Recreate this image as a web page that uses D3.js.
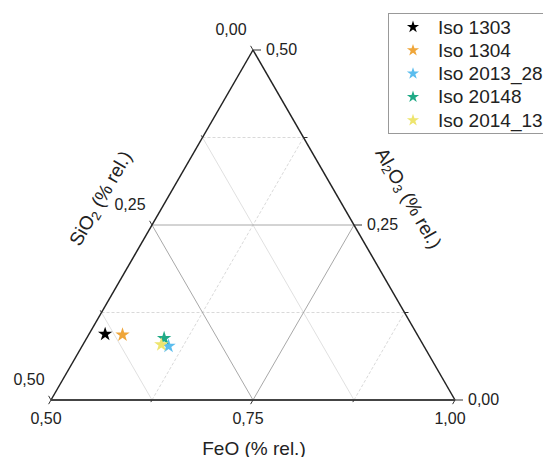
<!DOCTYPE html>
<html>
<head>
<meta charset="utf-8">
<script src="https://cdn.jsdelivr.net/npm/d3@7"></script>
<style>
  html, body { margin: 0; padding: 0; background: #fff; }
  svg { display: block; font-family: "Liberation Sans", Arial, sans-serif; }
</style>
</head>
<body>
<svg id="chart" width="543" height="457"></svg>
<script>
// ---- Data ----
const samples = ["Iso 1303", "Iso 1304", "Iso 2013_28", "Iso 20148", "Iso 2014_13"];
const feoValues = [0.520, 0.542, 0.607, 0.596, 0.597];
const sio2Values = [0.386, 0.365, 0.316, 0.316, 0.324];
const al2o3Values = [0.094, 0.093, 0.077, 0.088, 0.079];
const colors = ["#000000", "#EFA63A", "#5BBDEE", "#1FAA86", "#EEE56E"];
const majorTicks = [0, 0.25, 0.5];
const minorTicks = [0.125, 0.375];
const feoTicks = [0.5, 0.75, 1.0];

// ---- Layout ----
const svg = d3.select("#chart");
const x0 = 51, x1 = 455, yBottom = 400, yTop = 50;

// FeO along the bottom, Al2O3 upward, SiO2 = remainder
const feoX = d3.scaleLinear().domain([0.5, 1.0]).range([x0, x1]);
const alShift = d3.scaleLinear().domain([0, 0.5]).range([0, (x1 - x0) / 2]);
const alY = d3.scaleLinear().domain([0, 0.5]).range([yBottom, yTop]);
function proj(fe, al) { return [feoX(fe) + alShift(al), alY(al)]; }

const locale = d3.formatLocale({decimal: ",", thousands: ".", grouping: [3], currency: ["", ""]});
const fmt = locale.format(".2f");

const gGrid = svg.append("g");
function line(p, q, stroke, width, dash) {
  gGrid.append("line")
    .attr("x1", p[0]).attr("y1", p[1]).attr("x2", q[0]).attr("y2", q[1])
    .attr("stroke", stroke).attr("stroke-width", width)
    .attr("stroke-dasharray", dash || null);
}

// Minor grid
minorTicks.forEach(v => {
  // Al2O3 = v (horizontal) dashed
  line(proj(0.5, v), proj(1 - v, v), "#cfcfcf", 0.8, "3,2");
  // SiO2 = v : light solid
  line(proj(0.5, 0.5 - v), proj(1 - v, 0), "#dcdcdc", 0.9);
  // FeO = 0.5 + v dashed
  const fe = 0.5 + v;
  line(proj(fe, 0), proj(fe, 1 - fe), "#cfcfcf", 0.8, "3,2");
});
// Major grid
line(proj(0.5, 0.25), proj(0.75, 0.25), "#a8a8a8", 1);
line(proj(0.5, 0.25), proj(0.75, 0), "#a8a8a8", 1);
line(proj(0.75, 0), proj(0.75, 0.25), "#a8a8a8", 1);

// Triangle sides
line(proj(0.5, 0), proj(0.5, 0.5), "#222", 1.5);
line(proj(0.5, 0.5), proj(1.0, 0), "#222", 1.5);
line(proj(0.5, 0), proj(1.0, 0), "#444", 2.2);

// Ticks
const c60 = 0.5, s60 = Math.sqrt(3) / 2;
const allTicks = majorTicks.concat(minorTicks);
allTicks.forEach(v => {
  const len = majorTicks.includes(v) ? 8 : 4;
  // bottom FeO
  const pb = proj(0.5 + v, 0);
  line(pb, [pb[0] - c60 * len * 0.6, pb[1] + s60 * len * 0.6], "#333", 1);
  // left SiO2
  const pl = proj(0.5, 0.5 - v);
  line(pl, [pl[0] - c60 * len * 0.6, pl[1] - s60 * len * 0.6], "#333", 1);
  // right Al2O3
  const pr = proj(1 - v, v);
  line(pr, [pr[0] + len, pr[1]], "#333", 1);
});

// Tick labels
const gLab = svg.append("g").attr("font-size", 16).attr("fill", "#222");
feoTicks.forEach(v => {
  const p = proj(v, 0);
  gLab.append("text").attr("x", p[0] - 5).attr("y", p[1] + 18)
    .attr("text-anchor", "middle").attr("dominant-baseline", "central").text(fmt(v));
});
majorTicks.forEach(v => {
  const pl = proj(0.5, 0.5 - v);
  gLab.append("text").attr("x", pl[0] - 22).attr("y", pl[1] - 21)
    .attr("text-anchor", "middle").attr("dominant-baseline", "central").text(fmt(v));
  const pr = proj(1 - v, v);
  gLab.append("text").attr("x", pr[0] + 13).attr("y", pr[1] - 1)
    .attr("text-anchor", "start").attr("dominant-baseline", "central").text(fmt(v));
});

// Axis titles
const gT = svg.append("g").attr("font-size", 19).attr("fill", "#222");
gT.append("text").attr("x", 254).attr("y", 448)
  .attr("text-anchor", "middle").attr("dominant-baseline", "central").text("FeO (% rel.)");

const tSi = gT.append("text").attr("text-anchor", "middle").attr("dominant-baseline", "central")
  .attr("transform", "translate(100,198) rotate(-60)");
tSi.append("tspan").text("SiO");
tSi.append("tspan").attr("font-size", 13).attr("dy", 5).text("2");
tSi.append("tspan").attr("dy", -5).text(" (% rel.)");

const tAl = gT.append("text").attr("text-anchor", "middle").attr("dominant-baseline", "central")
  .attr("transform", "translate(409,198) rotate(60)");
tAl.append("tspan").text("Al");
tAl.append("tspan").attr("font-size", 13).attr("dy", 5).text("2");
tAl.append("tspan").attr("dy", -5).text("O");
tAl.append("tspan").attr("font-size", 13).attr("dy", 5).text("3");
tAl.append("tspan").attr("dy", -5).text(" (% rel.)");

// Data points
const star = d3.symbol().type(d3.symbolStar).size(64);
const gPts = svg.append("g");
samples.forEach((s, i) => {
  const p = proj(feoValues[i], al2o3Values[i]);
  gPts.append("path").attr("d", star)
    .attr("transform", `translate(${p[0]},${p[1]})`)
    .attr("fill", colors[i]);
});

// Legend
const gL = svg.append("g");
gL.append("rect").attr("x", 388.5).attr("y", 13.5).attr("width", 170).attr("height", 120)
  .attr("fill", "#fff").attr("stroke", "#999").attr("stroke-width", 1);
samples.forEach((s, i) => {
  const y = 27 + i * 23.3;
  gL.append("path").attr("d", d3.symbol().type(d3.symbolStar).size(46))
    .attr("transform", `translate(413,${y})`).attr("fill", colors[i]);
  gL.append("text").attr("x", 438).attr("y", y).attr("dominant-baseline", "central")
    .attr("font-size", 19).attr("fill", "#222").text(s);
});
</script>
</body>
</html>
